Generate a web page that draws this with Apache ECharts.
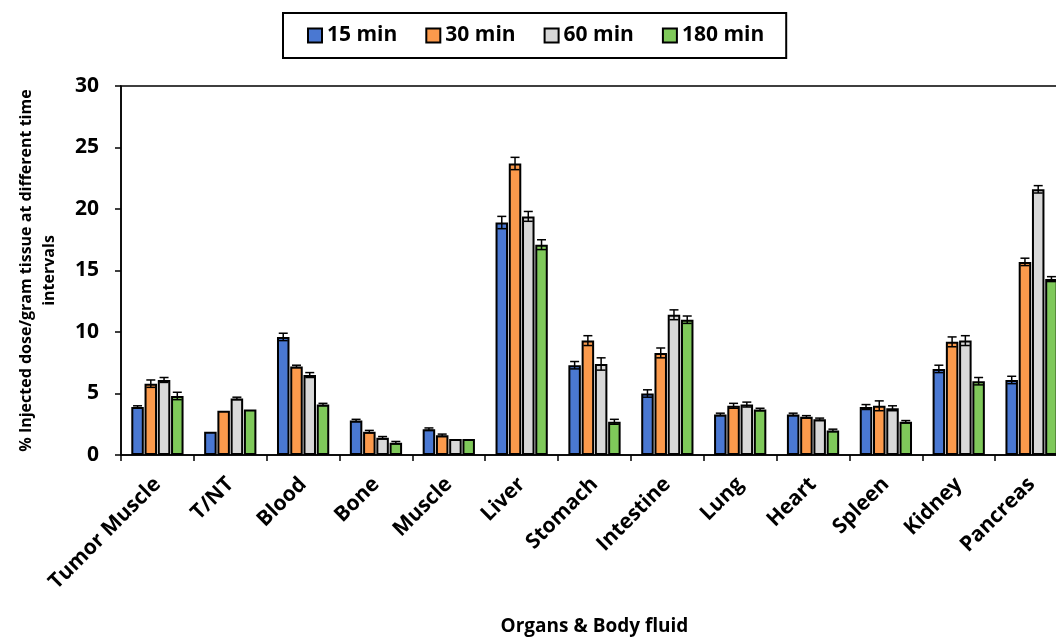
<!DOCTYPE html>
<html>
<head>
<meta charset="utf-8">
<script src="https://cdn.jsdelivr.net/npm/echarts@6/dist/echarts.min.js"></script>
<style>html,body{margin:0;padding:0;background:#fff;}#c{width:1056px;height:639px;}</style>
</head>
<body>
<div id="c"></div>
<script>
const categories = ['Tumor Muscle','T/NT','Blood','Bone','Muscle','Liver','Stomach','Intestine','Lung','Heart','Spleen','Kidney','Pancreas'];
const seriesNames = ['15 min','30 min','60 min','180 min'];
const min15  = [3.9, 1.9, 9.6, 2.8, 2.1, 18.9, 7.3, 5.0, 3.3, 3.3, 3.9, 7.0, 6.1];
const min30  = [5.8, 3.6, 7.2, 1.9, 1.6, 23.7, 9.3, 8.3, 4.0, 3.1, 4.0, 9.2, 15.7];
const min60  = [6.1, 4.6, 6.5, 1.4, 1.3, 19.4, 7.4, 11.4, 4.1, 2.9, 3.8, 9.3, 21.6];
const min180 = [4.8, 3.7, 4.1, 1.0, 1.3, 17.1, 2.7, 11.0, 3.7, 2.0, 2.7, 6.0, 14.3];
const err15  = [0.1, 0, 0.3, 0.1, 0.1, 0.5, 0.3, 0.3, 0.1, 0.1, 0.2, 0.3, 0.3];
const err30  = [0.3, 0, 0.1, 0.1, 0.1, 0.5, 0.4, 0.4, 0.2, 0.1, 0.4, 0.4, 0.3];
const err60  = [0.2, 0.1, 0.2, 0.1, 0, 0.4, 0.5, 0.4, 0.2, 0.1, 0.2, 0.4, 0.3];
const err180 = [0.3, 0, 0.1, 0.1, 0, 0.4, 0.2, 0.3, 0.1, 0.1, 0.1, 0.3, 0.2];
const yTicks = [0, 5, 10, 15, 20, 25, 30];

const values = [min15, min30, min60, min180];
const errors = [err15, err30, err60, err180];
const colors = ['#4a78d2', '#fb9a4c', '#d8d8d8', '#7fc95a'];
const FONT = '"Open Sans", "Noto Sans", sans-serif';
const BAR_W = 12.5, GAP = 0.06;
const pitch = BAR_W * (1 + GAP);
const groupW = 4 * BAR_W + 3 * BAR_W * GAP;

const chart = echarts.init(document.getElementById('c'));
const barSeries = seriesNames.map((n, s) => ({
  name: n, type: 'bar', data: values[s], barWidth: BAR_W, barGap: (GAP * 100) + '%',
  itemStyle: { color: colors[s], borderColor: '#000', borderWidth: 2 },
  emphasis: { disabled: true }
}));
const errSeries = {
  type: 'custom', silent: true, z: 5,
  data: categories.map((c, i) => [i, 0]),
  encode: { x: 0, y: 1 },
  renderItem: function (params, api) {
    const cat = api.value(0);
    const children = [];
    for (let s = 0; s < 4; s++) {
      const v = values[s][cat], e = errors[s][cat];
      if (!e) continue;
      const cx = api.coord([cat, v])[0] - groupW / 2 + BAR_W / 2 + s * pitch;
      const yt = api.coord([cat, v + e])[1];
      const yb = api.coord([cat, v - e])[1];
      const st = { stroke: '#000', lineWidth: 1.5 };
      children.push({ type: 'line', shape: { x1: cx, y1: yt, x2: cx, y2: yb }, style: st });
      children.push({ type: 'line', shape: { x1: cx - 4.5, y1: yt, x2: cx + 4.5, y2: yt }, style: st });
      children.push({ type: 'line', shape: { x1: cx - 4.5, y1: yb, x2: cx + 4.5, y2: yb }, style: st });
    }
    return { type: 'group', children: children };
  }
};

chart.setOption({
  animation: false,
  legend: {
    data: seriesNames, left: 283, top: 13, icon: 'rect',
    padding: [12, 22, 12, 24], borderColor: '#000', borderWidth: 2,
    itemWidth: 14, itemHeight: 14, itemGap: 28,
    textStyle: { fontFamily: FONT, fontWeight: 'bold', fontSize: 21, color: '#000' }
  },
  grid: { left: 121, right: -12, top: 86, bottom: 184, show: true, borderColor: '#000', borderWidth: 1.5,
    containLabel: false, outerBoundsMode: 'none' },
  xAxis: {
    type: 'category', data: categories,
    name: 'Organs & Body fluid', nameLocation: 'middle', nameGap: 162,
    nameTextStyle: { fontFamily: FONT, fontWeight: 'bold', fontSize: 19, color: '#000' },
    axisLine: { lineStyle: { color: '#000', width: 1.5 } },
    axisTick: { show: true, length: 6, lineStyle: { color: '#000', width: 1.5 } },
    axisLabel: { rotate: 45, interval: 0, margin: 26, fontFamily: FONT, fontWeight: 'bold', fontSize: 21, color: '#000' }
  },
  yAxis: {
    type: 'value', min: 0, max: 30, interval: 5,
    name: '% Injected dose/gram tissue at different time\nintervals', nameLocation: 'middle', nameGap: 60,
    nameTextStyle: { fontFamily: FONT, fontWeight: 'bold', fontSize: 16, lineHeight: 23, color: '#000' },
    axisLine: { show: true, lineStyle: { color: '#000', width: 1.5 } },
    axisTick: { show: true, length: 6, lineStyle: { color: '#000', width: 1.5 } },
    splitLine: { show: false },
    axisLabel: { margin: 22, fontFamily: FONT, fontWeight: 'bold', fontSize: 21, color: '#000',
      formatter: v => yTicks.indexOf(v) >= 0 ? String(v) : '' }
  },
  series: barSeries.concat([errSeries])
});
</script>
</body>
</html>
